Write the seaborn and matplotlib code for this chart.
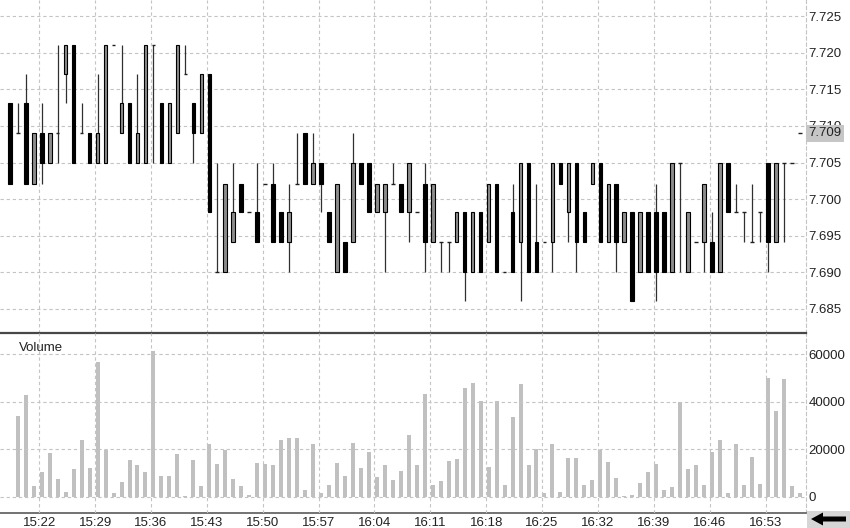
import numpy as np
import pandas as pd
import seaborn as sns
from matplotlib import pyplot as plt
from matplotlib.patches import Rectangle, Polygon
from matplotlib.transforms import blended_transform_factory

# one candle per minute, the first one at 15:18
start_time = '15:18'

opens = [7.7132, 7.709, 7.7132, 7.7021, 7.709, 7.705, 7.709, 7.7171, 7.7211, 7.709,
         7.709, 7.705, 7.705, 7.7211, 7.709, 7.7132, 7.705, 7.705, 7.7211, 7.7132,
         7.705, 7.709, 7.7171, 7.7132, 7.709, 7.7171, 7.6901, 7.6901, 7.6941, 7.7021,
         7.6982, 7.6982, 7.7021, 7.7021, 7.6982, 7.6941, 7.7021, 7.709, 7.7021, 7.705,
         7.6982, 7.6901, 7.6941, 7.6941, 7.705, 7.705, 7.6982, 7.6982, 7.7021, 7.7021,
         7.6982, 7.6982, 7.7021, 7.6941, 7.6941, 7.6941, 7.6941, 7.6982, 7.6901, 7.6982,
         7.6941, 7.7021, 7.6901, 7.6982, 7.6941, 7.705, 7.6941, 7.6941, 7.6941, 7.705,
         7.6982, 7.705, 7.6982, 7.7021, 7.705, 7.6941, 7.7021, 7.6941, 7.6982, 7.6901,
         7.6982, 7.6982, 7.6982, 7.6901, 7.705, 7.6901, 7.6941, 7.6941, 7.6941, 7.6901,
         7.705, 7.6982, 7.6982, 7.6941, 7.6982, 7.705, 7.6941, 7.705, 7.705, 7.709]
highs = [7.7132, 7.7132, 7.7171, 7.709, 7.7132, 7.709, 7.7211, 7.7211, 7.7211, 7.7132,
         7.709, 7.7171, 7.7211, 7.7211, 7.7211, 7.7132, 7.7171, 7.7211, 7.7211, 7.7132,
         7.7132, 7.7211, 7.7211, 7.7132, 7.7171, 7.7171, 7.705, 7.7021, 7.705, 7.7021,
         7.6982, 7.705, 7.7021, 7.705, 7.6982, 7.7021, 7.709, 7.709, 7.709, 7.705,
         7.6982, 7.7021, 7.6941, 7.709, 7.705, 7.705, 7.7021, 7.7021, 7.705, 7.7021,
         7.705, 7.6982, 7.705, 7.7021, 7.6941, 7.6941, 7.6982, 7.6982, 7.6982, 7.6982,
         7.7021, 7.7021, 7.6901, 7.7021, 7.705, 7.705, 7.7021, 7.6941, 7.705, 7.705,
         7.705, 7.705, 7.6982, 7.705, 7.705, 7.7021, 7.7021, 7.6982, 7.6982, 7.6982,
         7.6982, 7.7021, 7.6982, 7.705, 7.705, 7.6982, 7.6941, 7.7021, 7.6982, 7.705,
         7.705, 7.7021, 7.6982, 7.7021, 7.6982, 7.705, 7.705, 7.705, 7.705, 7.709]
lows = [7.7021, 7.709, 7.7021, 7.7021, 7.7021, 7.705, 7.705, 7.7132, 7.705, 7.709,
        7.705, 7.705, 7.705, 7.7211, 7.709, 7.705, 7.705, 7.705, 7.705, 7.705,
        7.705, 7.709, 7.7171, 7.705, 7.709, 7.6982, 7.6901, 7.6901, 7.6941, 7.6982,
        7.6982, 7.6941, 7.7021, 7.6941, 7.6941, 7.6901, 7.7021, 7.7021, 7.7021, 7.6982,
        7.6941, 7.6901, 7.6901, 7.6941, 7.7021, 7.6982, 7.6982, 7.6901, 7.7021, 7.6982,
        7.6941, 7.6982, 7.6901, 7.6941, 7.6901, 7.6901, 7.6941, 7.6861, 7.6901, 7.6901,
        7.6941, 7.6901, 7.6901, 7.6901, 7.6861, 7.6901, 7.6901, 7.6941, 7.6901, 7.7021,
        7.6941, 7.6901, 7.6941, 7.7021, 7.6941, 7.6941, 7.6901, 7.6941, 7.6861, 7.6901,
        7.6901, 7.6861, 7.6901, 7.6901, 7.6901, 7.6901, 7.6941, 7.6901, 7.6901, 7.6901,
        7.6982, 7.6982, 7.6941, 7.6941, 7.6941, 7.6901, 7.6941, 7.6941, 7.705, 7.709]
closes = [7.7021, 7.709, 7.7021, 7.709, 7.705, 7.709, 7.709, 7.7211, 7.705, 7.709,
          7.705, 7.709, 7.7211, 7.7211, 7.7132, 7.705, 7.709, 7.7211, 7.7211, 7.705,
          7.7132, 7.7211, 7.7171, 7.709, 7.7171, 7.6982, 7.6901, 7.7021, 7.6982, 7.6982,
          7.6982, 7.6941, 7.7021, 7.6941, 7.6941, 7.6982, 7.7021, 7.7021, 7.705, 7.7021,
          7.6941, 7.7021, 7.6901, 7.705, 7.7021, 7.6982, 7.7021, 7.7021, 7.7021, 7.6982,
          7.705, 7.6982, 7.6941, 7.7021, 7.6941, 7.6941, 7.6982, 7.6901, 7.6982, 7.6901,
          7.7021, 7.6901, 7.6901, 7.6901, 7.705, 7.6901, 7.6901, 7.6941, 7.705, 7.7021,
          7.705, 7.6941, 7.6941, 7.705, 7.6941, 7.7021, 7.6941, 7.6982, 7.6861, 7.6982,
          7.6901, 7.6901, 7.6901, 7.705, 7.705, 7.6982, 7.6941, 7.7021, 7.6901, 7.705,
          7.6982, 7.6982, 7.6982, 7.6941, 7.6982, 7.6941, 7.705, 7.705, 7.705, 7.709]
volumes = [0, 34000, 43000, 4600, 10600, 18600, 7300, 1800, 11700, 23900,
           12300, 56600, 19700, 1400, 6000, 15500, 13200, 10600, 61300, 8700,
           8700, 18000, 500, 15500, 4600, 22300, 13800, 19700, 7300, 4600,
           700, 14400, 13800, 13200, 23900, 24900, 24900, 2800, 22300, 1700,
           4900, 14400, 8700, 22800, 12300, 19000, 8200, 13200, 7000, 11000,
           26000, 13200, 43200, 4900, 6600, 15200, 15900, 45800, 47900, 40400,
           12700, 40400, 4900, 33400, 47500, 13200, 20300, 1700, 22300, 2100,
           16500, 16500, 4900, 7000, 19700, 14800, 7700, 300, 700, 5600,
           10600, 13700, 2800, 3900, 40100, 11600, 13200, 4900, 19000, 23900,
           1700, 22300, 4900, 16900, 5400, 50000, 36200, 49600, 4500, 1700]

time_labels = ['15:22', '15:29', '15:36', '15:43', '15:50', '15:57', '16:04',
               '16:11', '16:18', '16:25', '16:32', '16:39', '16:46', '16:53']
price_ticks = [7.685, 7.690, 7.695, 7.700, 7.705, 7.710, 7.715, 7.720, 7.725]
volume_ticks = [0, 20000, 40000, 60000]
last_price = 7.709


def to_minutes(s):
    h, m = s.split(':')
    return int(h) * 60 + int(m)


if __name__ == '__main__':
    df = pd.DataFrame({'open': opens, 'high': highs, 'low': lows,
                       'close': closes, 'volume': volumes})
    df['pos'] = np.arange(len(df))

    sns.set_theme(style='white')
    plt.rcParams['font.family'] = ['Liberation Sans', 'DejaVu Sans']

    grid_color = '#c4c4c4'
    dash = (0, (3, 2.5))
    text_color = '#222222'

    fig = plt.figure(figsize=(8.5, 5.28), dpi=100)
    ax_p = fig.add_axes([0, 0.3699, 0.9482, 0.6301])
    ax_v = fig.add_axes([0, 0.0284, 0.9482, 0.3415], sharex=ax_p)

    # time ticks sit a little left of the candle of that minute
    tick_pos = [to_minutes(t) - to_minutes(start_time) - 0.3 for t in time_labels]

    # ---- candles ----
    body_w = 0.45
    for _, r in df.iterrows():
        x = r['pos']
        if r['high'] > r['low']:
            ax_p.vlines(x, r['low'], r['high'], color='#303030', lw=0.9, zorder=3)
        if r['close'] == r['open']:
            ax_p.hlines(r['open'], x - body_w / 2, x + body_w / 2, color='#202020', lw=1.0, zorder=4)
        else:
            up = r['close'] > r['open']
            ax_p.bar(x, r['close'] - r['open'], bottom=r['open'], width=body_w,
                     color='#8c8c8c' if up else '#000000', edgecolor='#000000',
                     linewidth=0.8, zorder=4)

    ax_p.set_xlim(-1.23, 99.77)
    ax_p.set_ylim(7.68176, 7.7272)
    ax_p.yaxis.tick_right()
    ax_p.set_yticks(price_ticks)
    ax_p.set_yticklabels([f'{t:.3f}' for t in price_ticks])
    ax_p.tick_params(axis='y', length=0, pad=2, labelsize=9.5, labelcolor=text_color)
    ax_p.tick_params(axis='x', length=0, labelbottom=False)
    ax_p.set_xticks(tick_pos)
    ax_p.grid(True, color=grid_color, linestyle=dash, lw=0.8)
    ax_p.set_axisbelow(True)
    for s in ['top', 'left', 'bottom']:
        ax_p.spines[s].set_visible(False)
    ax_p.spines['right'].set_color(grid_color)
    ax_p.spines['right'].set_linestyle(dash)
    ax_p.spines['right'].set_linewidth(0.8)

    # last price marker on the axis
    trans = blended_transform_factory(ax_p.transAxes, ax_p.transData)
    ax_p.text(1.003, last_price, f'{last_price:.3f}', transform=trans, ha='left', va='center',
              fontsize=9.5, color=text_color, zorder=10, clip_on=False,
              bbox=dict(boxstyle='square,pad=0.2', facecolor='#c6c6c6', edgecolor='none'))

    # ---- volume ----
    sns.barplot(x=df['pos'], y=df['volume'], native_scale=True, color='#c0c0c0',
                saturation=1, width=0.5, linewidth=0, errorbar=None, ax=ax_v)
    ax_v.set_xlim(-1.23, 99.77)
    ax_v.set_ylim(-6870, 69100)
    ax_v.set_xlabel('')
    ax_v.set_ylabel('')
    ax_v.yaxis.tick_right()
    ax_v.set_yticks(volume_ticks)
    ax_v.set_yticklabels([str(v) for v in volume_ticks])
    ax_v.set_xticks(tick_pos)
    ax_v.set_xticklabels(time_labels)
    ax_v.tick_params(axis='y', length=0, pad=2, labelsize=9.5, labelcolor=text_color)
    ax_v.tick_params(axis='x', length=0, pad=3, labelsize=9.5, labelcolor=text_color)
    ax_v.grid(True, color=grid_color, linestyle=dash, lw=0.8)
    ax_v.set_axisbelow(False)
    ax_v.spines['left'].set_visible(False)
    ax_v.spines['top'].set_color('#474747')
    ax_v.spines['top'].set_linewidth(1.6)
    ax_v.spines['bottom'].set_color('#5a5a5a')
    ax_v.spines['bottom'].set_linewidth(1.2)
    ax_v.spines['right'].set_color(grid_color)
    ax_v.spines['right'].set_linestyle(dash)
    ax_v.spines['right'].set_linewidth(0.8)
    ax_v.text(0.024, 0.913, 'Volume', transform=ax_v.transAxes, ha='left', va='center',
              fontsize=9.5, color=text_color)

    # scroll button in the bottom right corner
    W, H = 850, 528
    fig.add_artist(Rectangle((807 / W, 0), 43 / W, 17 / H, transform=fig.transFigure,
                             facecolor='#d6d6d6', edgecolor='none'))
    arrow_px = [(811, 519), (823, 512.5), (823, 516.5), (846, 516.5),
                (846, 521.5), (823, 521.5), (823, 525.5)]
    fig.add_artist(Polygon([(x / W, 1 - y / H) for x, y in arrow_px], closed=True,
                           transform=fig.transFigure, facecolor='black', edgecolor='none'))

    plt.savefig('out.png', dpi=100)
